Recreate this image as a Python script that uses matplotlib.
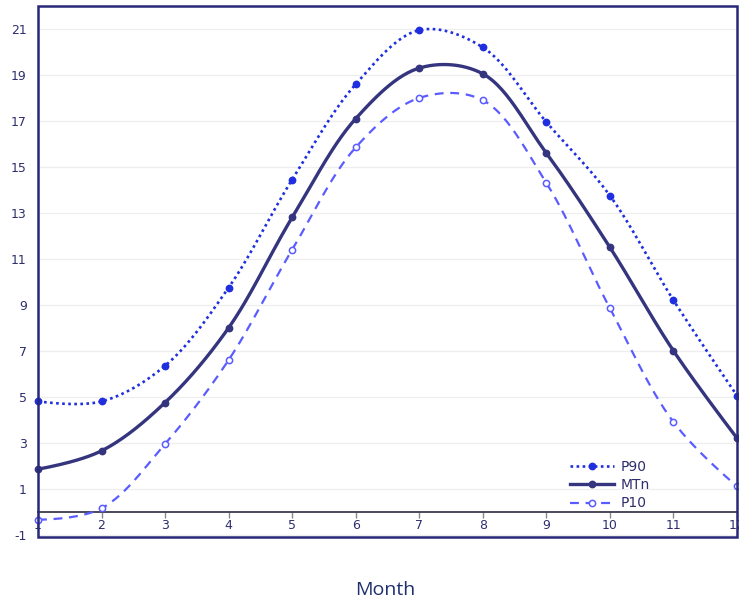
import numpy as np
import matplotlib
matplotlib.use("Agg")
import matplotlib.pyplot as plt
from matplotlib.patches import Rectangle

months = [1, 2, 3, 4, 5, 6, 7, 8, 9, 10, 11, 12]
p90 = [4.8, 4.8, 6.35, 9.75, 14.45, 18.6, 20.95, 20.2, 16.95, 13.75, 9.2, 5.05]
mtn = [1.85, 2.65, 4.75, 8.0, 12.8, 17.1, 19.3, 19.05, 15.6, 11.5, 7.0, 3.2]
p10 = [-0.35, 0.15, 2.95, 6.6, 11.4, 15.85, 18.0, 17.9, 14.3, 8.85, 3.9, 1.1]
yticks = [-1, 1, 3, 5, 7, 9, 11, 13, 15, 17, 19, 21]

W, H = 739, 603
fig = plt.figure(figsize=(W / 100, H / 100), dpi=100)
L, R, T, B = 38, 737, 6, 537
ax = fig.add_axes([L / W, 1 - B / H, (R - L) / W, (B - T) / H])
XMIN, XMAX, YMIN, YMAX = 1, 12, -1.1, 22.0
ax.set_xlim(XMIN, XMAX)
ax.set_ylim(YMIN, YMAX)
sx = (R - L) / (XMAX - XMIN)
sy = (B - T) / (YMAX - YMIN)


def spline(xs, ys, smooth=1.0, n=30):
    # plotly-style spline in pixel space
    pts = [np.array([x * sx, y * sy]) for x, y in zip(xs, ys)]
    tang = []
    for i in range(1, len(pts) - 1):
        p0, p1, p2 = pts[i - 1], pts[i], pts[i + 1]
        d1 = p0 - p1
        d2 = p2 - p1
        d1a = np.hypot(*d1) ** 0.5
        d2a = np.hypot(*d2) ** 0.5
        num = (d2a * d2a * d1 - d1a * d1a * d2) * smooth
        den1 = 3 * d2a * (d1a + d2a)
        den2 = 3 * d1a * (d1a + d2a)
        tang.append((p1 + num / den1, p1 - num / den2))
    t = np.linspace(0, 1, n)[:, None]
    segs = []
    a, c, b = pts[0], tang[0][0], pts[1]
    segs.append((1 - t) ** 2 * a + 2 * (1 - t) * t * c + t ** 2 * b)
    for i in range(2, len(pts) - 1):
        a = pts[i - 1]
        c1 = tang[i - 2][1]
        c2 = tang[i - 1][0]
        b = pts[i]
        segs.append((1 - t) ** 3 * a + 3 * (1 - t) ** 2 * t * c1 + 3 * (1 - t) * t ** 2 * c2 + t ** 3 * b)
    a, c, b = pts[-2], tang[-1][1], pts[-1]
    segs.append((1 - t) ** 2 * a + 2 * (1 - t) * t * c + t ** 2 * b)
    P = np.vstack(segs)
    return P[:, 0] / sx, P[:, 1] / sy


c90 = '#1f2fe0'
cmt = '#35357f'
c10 = '#5a5cff'

for ys, col, ls, lw, mfc, lab in [
    (p90, c90, (0, (1, 1.3)), 1.9, c90, 'P90'),
    (mtn, cmt, '-', 2.4, cmt, 'MTn'),
    (p10, c10, (0, (4, 3)), 1.6, 'white', 'P10'),
]:
    xx, yy = spline(months, ys)
    ax.plot(xx, yy, color=col, ls=ls, lw=lw, clip_on=False, zorder=3)
    ax.plot(months, ys, ls='none', marker='o', ms=4.5, mfc=mfc, mec=col, mew=1.1,
            clip_on=False, zorder=4)
    ax.plot([], [], color=col, ls=ls, lw=lw, marker='o', ms=4.5, mfc=mfc, mec=col,
            mew=1.1, label=lab)

for s in ['left', 'right', 'top']:
    ax.spines[s].set_visible(False)
ax.spines['bottom'].set_position(('data', 0))
ax.spines['bottom'].set_color('#3a3a4a')
ax.spines['bottom'].set_linewidth(1.3)
ax.add_patch(Rectangle((0, 0), 1, 1, transform=ax.transAxes, fill=False,
                       ec='#28287a', lw=1.8, clip_on=False, zorder=6))

ax.set_xticks(months)
ax.set_xticklabels([str(m) for m in months])
ax.set_yticks(yticks)
ax.set_yticklabels([str(v) for v in yticks])
ax.tick_params(axis='x', direction='out', length=4, width=1, color='#888888',
               labelsize=9, labelcolor='#2e2e6e', pad=1)
ax.tick_params(axis='y', length=0, labelsize=9, labelcolor='#2e2e6e', pad=8)
ax.grid(axis='y', color='#eeeeee', lw=0.9)
ax.set_axisbelow(True)

leg = ax.legend(loc='lower right', bbox_to_anchor=(0.876, 0.05), frameon=False,
                fontsize=10, handlelength=3.2, labelspacing=0.3, handletextpad=0.5,
                borderaxespad=0, borderpad=0, labelcolor='#2e2e6e')

fig.text(385 / W, 1 - 590 / H, 'Month', ha='center', va='center', fontsize=14,
         color='#1f2f6e', family='Open Sans')

fig.savefig('out.png', dpi=100)
